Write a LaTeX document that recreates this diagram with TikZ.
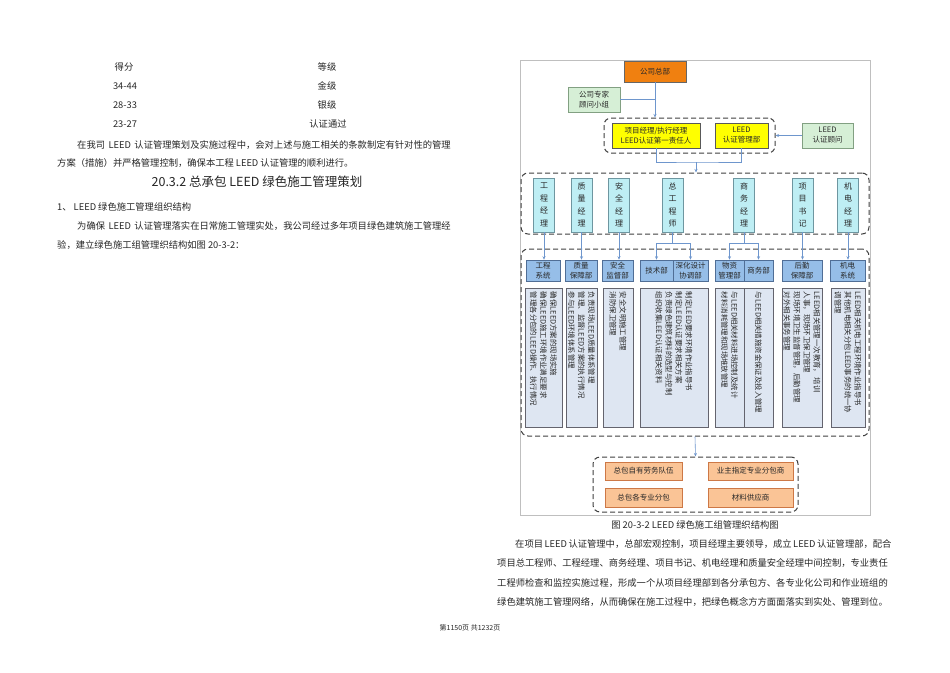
\documentclass[tikz,border=0pt]{standalone}
\usepackage{fontspec}
\setmainfont{Noto Sans CJK SC}
\usetikzlibrary{arrows.meta}
\XeTeXlinebreaklocale "zh"
\XeTeXlinebreakskip=0pt plus 1pt minus 0.2pt
\newcommand\ksp{\kern3.5pt}
\newcommand\ksq{\kern1.5pt}
\definecolor{hqc}{RGB}{240,128,16}
\definecolor{grc}{RGB}{214,239,214}
\definecolor{grb}{RGB}{130,160,130}
\definecolor{ylc}{RGB}{255,255,0}
\definecolor{cyc}{RGB}{190,238,244}
\definecolor{cyb}{RGB}{110,150,160}
\definecolor{dpc}{RGB}{150,190,232}
\definecolor{dpb}{RGB}{80,110,150}
\definecolor{dsc}{RGB}{222,230,242}
\definecolor{dsb}{RGB}{100,100,110}
\definecolor{orc}{RGB}{250,196,150}
\definecolor{orb}{RGB}{205,120,70}
\definecolor{lnc}{RGB}{110,150,205}
\definecolor{txc}{RGB}{40,40,40}
\tikzset{
  box/.style={draw, line width=0.6pt, inner sep=0pt, align=center, text=txc, font=\fontsize{7.5pt}{10pt}\selectfont},
  hqbox/.style={box, fill=hqc, draw=black!60},
  grnbox/.style={box, fill=grc, draw=grb},
  ylbox/.style={box, fill=ylc, draw=black!65},
  mgr/.style={box, fill=cyc, draw=cyb, minimum width=21pt, minimum height=54pt, font=\fontsize{8pt}{12.5pt}\selectfont},
  dept/.style={box, fill=dpc, draw=dpb, minimum height=21pt},
  desc/.style={box, fill=dsc, draw=dsb, minimum height=139pt},
  dtext/.style={rotate=-90, anchor=west, align=left, inner sep=0pt, text=txc, font=\fontsize{7.4pt}{10pt}\selectfont},
  obox/.style={box, fill=orc, draw=orb},
  grp/.style={draw=black!75, line width=1pt, dash pattern=on 5pt off 3pt, rounded corners=7pt, inner sep=0pt},
  conn/.style={draw=lnc, line width=0.6pt},
  arr/.style={conn, -{Stealth[length=3.5pt,width=3pt]}},
  body/.style={inner sep=0pt, text=black!85, font=\fontsize{9.3pt}{12pt}\selectfont},
  frameline/.style={draw=black!25, line width=0.6pt}
}
\begin{document}
\begin{tikzpicture}[x=1pt,y=-1pt]
\useasboundingbox (0,0) rectangle (950,672);
\fill[white] (0,0) rectangle (950,672);

% ---------- left column ----------
\node[body] (s1) at (124,67) {得分};
\node[body] (s2) at (327,67) {等级};
\node[body] (s3) at (125,86) {34-44};
\node[body] (s4) at (327,86) {金级};
\node[body] (s5) at (125,105) {28-33};
\node[body] (s6) at (327,105) {银级};
\node[body] (s7) at (125,124) {23-27};
\node[body] (s8) at (328,124) {认证通过};
\node[body, anchor=west] (p1) at (77,145) {\makebox[378pt][s]{在我司\ksp LEED\ksp 认证管理策划及实施过程中，会对上述与施工相关的条款制定有针对性的管理}};
\node[body, anchor=west] (p2) at (57,163) {方案（措施）并严格管理控制，确保本工程 LEED 认证管理的顺利进行。};
\node[body, font=\fontsize{12.5pt}{15pt}\selectfont] (h1) at (257,182) {20.3.2 总承包 LEED 绿色施工管理策划};
\node[body, anchor=west] (p3) at (57,207) {1、 LEED 绿色施工管理组织结构};
\node[body, anchor=west] (p4) at (77,226) {\makebox[378pt][s]{为确保\ksp LEED\ksp 认证管理落实在日常施工管理实处，我公司经过多年项目绿色建筑施工管理经}};
\node[body, anchor=west] (p5) at (57,245) {验，建立绿色施工组管理织结构如图 20-3-2：};

% ---------- chart frame ----------
\draw[frameline] (520,60) rectangle (870,515);

% groups
\node[grp, minimum width=171pt, minimum height=35pt] (g0) at (689.5,135.5) {};
\node[grp, minimum width=348pt, minimum height=61pt] (g1) at (695,203.5) {};
\node[grp, minimum width=348pt, minimum height=187pt] (g2) at (695,342.5) {};
\node[grp, minimum width=205pt, minimum height=55pt] (g3) at (695.5,484.5) {};

% top
\node[hqbox, minimum width=62pt, minimum height=21pt] (hq) at (655,71.5) {公司总部};
\node[grnbox, minimum width=52pt, minimum height=25pt] (ex) at (594,99.5) {公司专家\\顾问小组};
\node[ylbox, minimum width=88pt, minimum height=25pt] (y1) at (656,135.5) {项目经理/执行经理\\LEED认证第一责任人};
\node[ylbox, minimum width=53pt, minimum height=25pt] (y2) at (741.5,135.5) {LEED\\认证管理部};
\node[grnbox, minimum width=51pt, minimum height=25pt] (adv) at (827.5,135.5) {LEED\\认证顾问};

% managers
\node[mgr] (m1) at (544,205) {工\\程\\经\\理};
\node[mgr] (m2) at (581.5,205) {质\\量\\经\\理};
\node[mgr] (m3) at (619,205) {安\\全\\经\\理};
\node[mgr] (m4) at (672.5,205) {总\\工\\程\\师};
\node[mgr] (m5) at (744,205) {商\\务\\经\\理};
\node[mgr] (m6) at (802.5,205) {项\\目\\书\\记};
\node[mgr] (m7) at (848,205) {机\\电\\经\\理};

% departments
\node[dept, minimum width=34pt] (d1) at (543,270.5) {工程\\系统};
\node[dept, minimum width=32pt] (d2) at (581,270.5) {质量\\保障部};
\node[dept, minimum width=31pt] (d3) at (617.5,270.5) {安全\\监督部};
\node[dept, minimum width=33pt] (d4a) at (656.5,270.5) {技术部};
\node[dept, minimum width=35pt] (d4b) at (690.5,270.5) {深化设计\\协调部};
\node[dept, minimum width=29pt] (d5a) at (729.5,270.5) {物资\\管理部};
\node[dept, minimum width=29pt] (d5b) at (758.5,270.5) {商务部};
\node[dept, minimum width=40pt] (d6) at (802,270.5) {后勤\\保障部};
\node[dept, minimum width=35pt] (d7) at (847.5,270.5) {机电\\系统};

% descriptions
\node[desc, minimum width=37pt] (e1) at (543.5,357.5) {};
\node[desc, minimum width=31pt] (e2) at (581.5,357.5) {};
\node[desc, minimum width=30pt] (e3) at (618,357.5) {};
\node[desc, minimum width=68pt] (e4) at (674,357.5) {};
\node[desc, minimum width=29pt] (e5a) at (729.5,357.5) {};
\node[desc, minimum width=29pt] (e5b) at (758.5,357.5) {};
\node[desc, minimum width=40pt] (e6) at (802,357.5) {};
\node[desc, minimum width=34pt] (e7) at (848,357.5) {};

\node[dtext] (t1) at ([yshift=-4pt]e1.north) {确保LEED方案的现场实施\\确保LEED施工环境作业满足要求\\管理各分包的LEED操作、执行情况};
\node[dtext] (t2) at ([yshift=-4pt]e2.north) {负责现场LEED质量体系管理\\管理、监督LEED方案的执行情况\\参与LEED环境体系管理};
\node[dtext] (t3) at ([yshift=-4pt]e3.north) {安全文明施工管理\\消防保卫管理};
\node[dtext] (t4) at ([yshift=-4pt]e4.north) {制定LEED要求环境作业指导书\\制定LEED认证要求相关方案\\负责绿色建筑材料的选型与控制\\组织收集LEED认证相关资料};
\node[dtext] (t5a) at ([yshift=-4pt]e5a.north) {与LEED相关材料进场控制及统计\\材料消耗管理和现场堆放管理};
\node[dtext] (t5b) at ([yshift=-4pt]e5b.north) {与LEED相关措施资金保证及投入管理};
\node[dtext] (t6) at ([yshift=-4pt]e6.north) {LEED相关管理一次教育，\ 培训\\人事，现场环卫保卫管理\\现场环境卫生监督管理，后勤管理\\对外相关事务管理};
\node[dtext] (t7) at ([yshift=-4pt]e7.north) {LEED相关机电工程环境作业指导书\\其他机电相关分包LEED事务的统一协\\调管理};

% bottom orange boxes
\node[obox, minimum width=77pt, minimum height=18pt] (o1) at (643.5,471) {总包自有劳务队伍};
\node[obox, minimum width=85pt, minimum height=18pt] (o2) at (750.5,471) {业主指定专业分包商};
\node[obox, minimum width=77pt, minimum height=19pt] (o3) at (643.5,497.5) {总包各专业分包};
\node[obox, minimum width=85pt, minimum height=19pt] (o4) at (750.5,497.5) {材料供应商};

% connectors
\draw[arr] (hq.south) -- (hq.south |- g0.north);
\draw[conn] (ex.east) -- (ex.east -| hq.south);
\draw[arr] (adv.west) -- (adv.west -| g0.east);
\coordinate (jb) at (696,162);
\draw[conn] (y1.south) |- (jb) -| (y2.south);
\draw[arr] (jb) -- (jb |- g1.north);
\draw[arr] (m1.south) -- (m1.south |- d1.north);
\draw[arr] (m2.south) -- (m2.south |- d2.north);
\draw[arr] (m3.south) -- (m3.south |- d3.north);
\draw[arr] (m6.south) -- (m6.south |- d6.north);
\draw[arr] (m7.south) -- (m7.south |- d7.north);
\coordinate (k4) at (672.5,243);
\coordinate (k5) at (744,243);
\draw[conn] (m4.south) -- (k4);
\draw[arr] (k4) -| (d4a.north);
\draw[arr] (k4) -| (d4b.north);
\draw[conn] (m5.south) -- (k5);
\draw[arr] (k5) -| (d5a.north);
\draw[arr] (k5) -| (d5b.north);
\draw[arr] (g2.south) -- (g3.north);

% ---------- right column text ----------
\node[body] (cap) at (695,525) {图 20-3-2 LEED 绿色施工组管理织结构图};
\node[body, anchor=west] (q1) at (515,544) {\makebox[378pt][s]{在项目\ksq LEED\ksq 认证管理中，总部宏观控制，项目经理主要领导，成立\ksq LEED\ksq 认证管理部，配合}};
\node[body, anchor=west] (q2) at (497,563.5) {\makebox[396pt][s]{项目总工程师、工程经理、商务经理、项目书记、机电经理和质量安全经理中间控制，专业责任}};
\node[body, anchor=west] (q3) at (497,583) {\makebox[396pt][s]{工程师检查和监控实施过程，形成一个从项目经理部到各分承包方、各专业化公司和作业班组的}};
\node[body, anchor=west] (q4) at (497,602.5) {绿色建筑施工管理网络，从而确保在施工过程中，把绿色概念方方面面落实到实处、管理到位。};
\node[body, font=\fontsize{7pt}{9pt}\selectfont] (pg) at (470,628) {第1150页 共1232页};
\end{tikzpicture}
\end{document}
